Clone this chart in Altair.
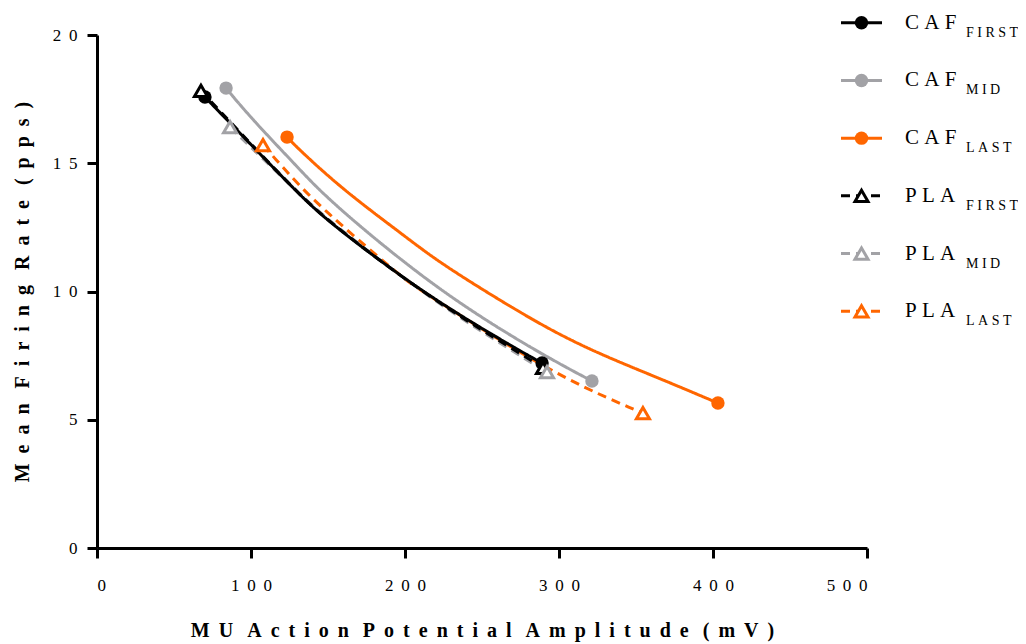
import altair as alt
import pandas as pd

# ---- data ----
series = ["CAF_FIRST", "CAF_MID", "CAF_LAST", "PLA_FIRST", "PLA_MID", "PLA_LAST"]
groups = ["CAF", "CAF", "CAF", "PLA", "PLA", "PLA"]
main_labels = ["C A F", "C A F", "C A F", "P L A", "P L A", "P L A"]
sub_labels = ["F I R S T", "M I D", "L A S T", "F I R S T", "M I D", "L A S T"]
colors = ["#000000", "#a2a2a6", "#ff6600", "#000000", "#a2a2a6", "#ff6600"]

caf_first_x = [70.1, 92.9, 131.8, 151.3, 216.2, 281.2, 289.0]
caf_first_y = [17.58, 16.17, 13.75, 12.66, 9.73, 7.46, 7.21]
caf_mid_x = [83.8, 99.4, 131.8, 151.3, 220.6, 285.5, 321.4]
caf_mid_y = [17.93, 16.80, 14.75, 13.50, 10.06, 7.65, 6.51]
caf_last_x = [123.4, 131.8, 159.9, 196.8, 220.6, 259.5, 294.2, 326.6, 369.9, 403.2]
caf_last_y = [16.02, 15.50, 13.96, 12.30, 11.20, 9.73, 8.50, 7.55, 6.50, 5.65]
pla_first_x = [67.5, 92.9, 131.8, 151.3, 216.2, 281.2, 289.6]
pla_first_y = [17.82, 16.20, 13.75, 12.68, 9.72, 7.35, 7.02]
pla_mid_x = [86.4, 131.8, 151.3, 216.2, 281.2, 292.2]
pla_mid_y = [16.41, 13.78, 12.72, 9.70, 7.25, 6.86]
pla_last_x = [107.8, 114.5, 131.8, 151.3, 168.6, 198.9, 209.7, 298.5, 354.5]
pla_last_y = [15.71, 15.26, 14.09, 12.98, 12.07, 10.51, 10.06, 6.68, 5.26]

xs = [caf_first_x, caf_mid_x, caf_last_x, pla_first_x, pla_mid_x, pla_last_x]
ys = [caf_first_y, caf_mid_y, caf_last_y, pla_first_y, pla_mid_y, pla_last_y]

x_ticks = [0, 100, 200, 300, 400, 500]
y_ticks = [0, 5, 10, 15, 20]

NB = "\u00a0"
TH = "\u2009"


def spaced(text, gap, word_gap):
    return word_gap.join(gap.join(w) for w in text.split(" "))


x_title = spaced("MU Action Potential Amplitude (mV)", NB + TH, NB + TH + NB)
y_title = spaced("Mean Firing Rate (pps)", NB * 2, NB * 3)

# ---- tables ----
rows = []
for s, g, xv, yv in zip(series, groups, xs, ys):
    n = len(xv)
    for i, (a, b) in enumerate(zip(xv, yv)):
        rows.append({"series": s, "group": g, "x": a, "y": b, "end": i in (0, n - 1), "order": i})
df = pd.DataFrame(rows)
leg = pd.DataFrame({"series": series, "group": groups,
                    "main": [m.replace(" ", NB) for m in main_labels],
                    "sub": [m.replace(" ", NB) for m in sub_labels]})

FONT = "Liberation Serif"
color_scale = alt.Scale(domain=series, range=colors)
dash_scale = alt.Scale(domain=["CAF", "PLA"], range=[[1, 0], [9, 6]])
xs_scale = alt.Scale(domain=[0, 500], nice=False)
ys_scale = alt.Scale(domain=[0, 20], nice=False)
label_expr = "join(split(datum.label, ''), '" + NB + TH + "')"

x_enc = alt.X("x:Q", scale=xs_scale,
              axis=alt.Axis(values=x_ticks, title=x_title,
                            labelExpr=label_expr, titlePadding=27, labelPadding=19))
y_enc = alt.Y("y:Q", scale=ys_scale,
              axis=alt.Axis(values=y_ticks, title=y_title,
                            labelExpr=label_expr, titlePadding=20, labelPadding=10))

base = alt.Chart(df)
draw_order = ["CAF_LAST", "CAF_MID", "PLA_LAST", "PLA_MID", "CAF_FIRST", "PLA_FIRST"]
line_layers = []
for s in draw_order:
    line_layers.append(
        base.transform_filter(alt.datum.series == s).mark_line(strokeWidth=3, interpolate="basis").encode(
            x=x_enc, y=y_enc,
            color=alt.Color("series:N", scale=color_scale, legend=None),
            strokeDash=alt.StrokeDash("group:N", scale=dash_scale, legend=None),
            order="order:Q",
        )
    )

circles = base.transform_filter((alt.datum.group == "CAF") & alt.datum.end).mark_point(
    shape="circle", filled=True, size=180, opacity=1
).encode(x=x_enc, y=y_enc, color=alt.Color("series:N", scale=color_scale, legend=None))

triangles = base.transform_filter((alt.datum.group == "PLA") & alt.datum.end).mark_point(
    shape="triangle-up", size=170, strokeWidth=3, opacity=1
).encode(x=x_enc, y=y_enc, fill=alt.value("white"),
         stroke=alt.Stroke("series:N", scale=color_scale, legend=None))

data_layer = alt.layer(*line_layers, circles, triangles)

# ---- hand-built legend with subscripts ----
ly = alt.Y("series:N", scale=alt.Scale(type="point", domain=series, range=[-12.3, 276.3], padding=0), axis=None)
lbase = alt.Chart(leg)
leg_lines = lbase.mark_rule(strokeWidth=3).encode(
    x=alt.value(744), x2=alt.value(785), y=ly,
    color=alt.Color("series:N", scale=color_scale, legend=None),
    strokeDash=alt.StrokeDash("group:N", scale=alt.Scale(domain=["CAF", "PLA"], range=[[1, 0], [8, 29, 4, 10]]), legend=None),
)
leg_circ = lbase.transform_filter(alt.datum.group == "CAF").mark_point(shape="circle", filled=True, size=180, opacity=1).encode(
    x=alt.value(764.5), y=ly, color=alt.Color("series:N", scale=color_scale, legend=None))
leg_tri = lbase.transform_filter(alt.datum.group == "PLA").mark_point(shape="triangle-up", size=170, strokeWidth=3, opacity=1).encode(
    x=alt.value(764.5), y=ly, fill=alt.value("white"), stroke=alt.Stroke("series:N", scale=color_scale, legend=None))
leg_main = lbase.mark_text(font=FONT, fontSize=21, align="left", baseline="middle", color="black").encode(
    x=alt.value(808), y=ly, text="main:N")
leg_sub = lbase.mark_text(font=FONT, fontSize=14, align="left", baseline="middle", dy=10, color="black").encode(
    x=alt.value(869), y=ly, text="sub:N")
legend_layer = alt.layer(leg_lines, leg_circ, leg_tri, leg_main, leg_sub)

chart = alt.layer(data_layer, legend_layer).resolve_scale(y="independent").properties(
    width=770, height=513,
    autosize=alt.AutoSizeParams(type="none"),
    padding={"left": 89, "top": 27, "right": 151, "bottom": 96},
).configure_view(stroke=None).configure_axis(
    grid=False, domainColor="black", domainWidth=3, tickColor="black", tickWidth=3, tickSize=10,
    labelFont=FONT, labelFontSize=17, labelColor="black",
    titleFont=FONT, titleFontSize=20, titleFontWeight="bold", titleColor="black",
)

chart.save("out.html", embed_options={"renderer": "svg", "actions": False})
